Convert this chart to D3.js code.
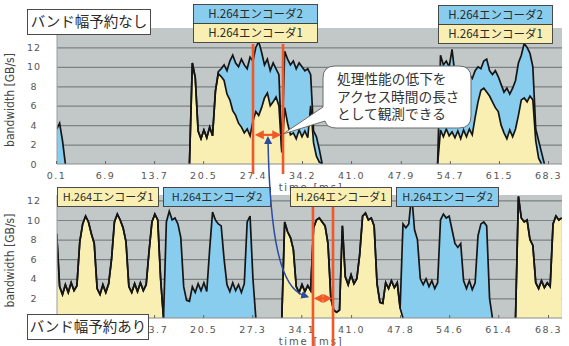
<!DOCTYPE html>
<html>
<head>
<meta charset="utf-8">
<script src="https://cdn.jsdelivr.net/npm/d3@7"></script>
<style>
  body { margin: 0; background: #fff; }
  svg { display: block; }
</style>
</head>
<body>
<div id="chart"></div>
<script>
// samples every 0.4 ms starting at 0.2 ms
const T0 = 0.2, DT = 0.4;

const xLabelsTop = ["0.1", "6.9", "13.7", "20.5", "27.4", "34.2", "41.0", "47.9", "54.7", "61.5", "68.3"];
// first two are hidden under the "バンド幅予約あり" box in the original
const xLabelsBottom = ["13.7", "20.5", "27.3", "34.1", "41.0", "47.8", "54.6", "61.4", "68.3"];
const yTicksTop = [0, 2, 4, 6, 8, 10, 12];
const yTicksBottom = [2, 4, 6, 8, 10, 12];

// without bandwidth reservation (GB/s)
const topEnc1 = [
  0, 0, 0, 0, 0, 0, 0, 0, 0, 0,
  0, 0, 0, 0, 0, 0, 0, 0, 0, 0,
  0, 0, 0, 0, 0, 0, 0, 0, 0, 0,
  0, 0, 0, 0, 0, 0, 0, 0, 0, 0,
  0, 0, 0, 0, 0, 0, 0, 10.4, 8.9, 3.4,
  2.6, 3.5, 2.7, 3.8, 2.9, 7.5, 9.3, 9.0, 8.6, 7.2,
  6.6, 5.5, 5.0, 4.2, 3.8, 3.2, 3.6, 2.9, 4.4, 5.4,
  5.0, 5.8, 6.8, 7.3, 6.0, 6.4, 6.9, 6.0, 1.2, 5.8,
  4.2, 3.0, 3.2, 2.6, 3.5, 2.8, 3.4, 2.7, 6.0, 2.2,
  0.8, 0.2, 0, 0, 0, 0, 0, 0, 0, 0,
  0, 0, 0, 0, 0, 0, 0, 0, 0, 0,
  0, 0, 0, 0, 0, 0, 0, 0, 0, 0,
  0, 0, 0, 0, 0, 0, 0, 0, 0, 0,
  0, 0, 0, 3.5, 2.8, 3.6, 2.9, 3.3, 2.7, 3.4,
  2.6, 3.5, 2.8, 3.6, 3.0, 4.8, 6.4, 7.6, 7.8, 7.4,
  7.0, 6.4, 5.8, 5.4, 4.0, 3.2, 2.6, 3.5, 2.8, 3.6,
  5.0, 6.6, 6.8, 6.4, 7.0, 6.6, 2.4, 0.6, 0, 0,
  0, 0, 0, 0, 0, 0
];
const topEnc2 = [
  3.6, 4.2, 2.4, 0, 0, 0, 0, 0, 0, 0,
  0, 0, 0, 0, 0, 0, 0, 0, 0, 0,
  0, 0, 0, 0, 0, 0, 0, 0, 0, 0,
  0, 0, 0, 0, 0, 0, 0, 0, 0, 0,
  0, 0, 0, 0, 0, 0, 0, 0, 0, 0,
  0, 0, 0, 0, 0, 0, 0.2, 0.8, 1.6, 2.4,
  4.0, 5.7, 5.4, 5.8, 7.0, 7.0, 6.2, 8.1, 6.2, 6.6,
  7.6, 5.7, 3.4, 3.5, 3.6, 4.0, 2.9, 3.2, 0.3, 5.8,
  6.6, 7.2, 7.4, 7.2, 6.9, 7.2, 6.2, 7.1, 3.2, 1.2,
  2.0, 1.3, 0, 0, 0, 0, 0, 0, 0, 0,
  0, 0, 0, 0, 0, 0, 0, 0, 0, 0,
  0, 0, 0, 0, 0, 0, 0, 0, 0, 0,
  0, 0, 0, 0, 0, 0, 0, 0, 0, 0,
  0, 0, 0, 7.7, 7.4, 7.0, 7.1, 8.5, 6.5, 5.0,
  6.2, 5.9, 5.8, 5.6, 5.8, 4.8, 3.6, 2.2, 2.8, 3.4,
  2.6, 2.8, 3.8, 3.6, 4.2, 4.2, 5.2, 3.7, 5.0, 5.0,
  5.4, 4.6, 5.6, 5.6, 4.4, 3.4, 1.2, 1.8, 1.2, 0,
  0, 0, 0, 0, 0, 0
];

// with bandwidth reservation (GB/s)
const bottomEnc1 = [
  8.6, 3.2, 2.4, 3.4, 2.6, 3.6, 2.8, 3.3, 7.8, 9.6,
  10.4, 9.8, 8.6, 7.6, 3.0, 2.4, 3.4, 2.6, 3.5, 6.0,
  9.8, 10.6, 10.0, 9.2, 7.8, 3.2, 2.6, 3.5, 2.7, 3.6,
  2.8, 3.4, 6.8, 9.8, 10.6, 10.0, 4.0, 0, 0, 0,
  0, 0, 0, 0, 0, 0, 0, 0, 0, 0,
  0, 0, 0, 0, 0, 0, 0, 0, 0, 0,
  0, 0, 0, 0, 0, 0, 0, 0, 0, 0,
  0, 0, 0, 0, 0, 0, 0, 0, 0, 9.8,
  8.8, 8.2, 7.0, 3.2, 2.6, 3.4, 2.7, 3.3, 2.8, 9.2,
  10.0, 10.2, 9.8, 9.4, 7.6, 2.0, 0.8, 0.6, 0.8, 9.4,
  4.2, 3.4, 4.4, 3.5, 4.0, 6.5, 10.4, 10.7, 10.0, 10.2,
  9.4, 3.5, 1.6, 1.5, 3.6, 3.0, 3.8, 3.1, 3.6, 1.0,
  0, 0, 0, 0, 0, 0, 0, 0, 0, 0,
  0, 0, 0, 0, 0, 0, 0, 0, 0, 0,
  0, 0, 0, 0, 0, 0, 0, 0, 0, 0,
  0, 0, 0, 0, 0, 0, 0, 0, 0, 0,
  12.4, 10.2, 9.8, 10.0, 8.0, 7.4, 3.6, 3.0, 3.8, 3.1,
  3.6, 3.2, 9.6, 10.4, 10.0, 10.2
];
const bottomEnc2 = [
  0, 0, 0, 0, 0, 0, 0, 0, 0, 0,
  0, 0, 0, 0, 0, 0, 0, 0, 0, 0,
  0, 0, 0, 0, 0, 0, 0, 0, 0, 0,
  0, 0, 0, 0, 0, 0, 0, 0, 9.8, 10.9,
  10.0, 10.2, 9.6, 8.2, 3.2, 1.8, 1.7, 3.2, 2.6, 3.5,
  2.8, 3.6, 2.7, 7.0, 10.8, 10.0, 9.6, 9.4, 6.0, 3.4,
  2.7, 3.6, 2.8, 3.4, 2.6, 3.5, 9.8, 10.4, 4.0, 0,
  0, 0, 0, 0, 0, 0, 0, 0, 0, 0,
  0, 0, 0, 0, 0, 0, 0, 0, 0, 0,
  0, 0, 0, 0, 0, 0, 0, 0, 0, 0,
  0, 0, 0, 0, 0, 0, 0, 0, 0, 0,
  0, 0, 0, 0, 0, 0, 0, 0, 0, 0,
  9.6, 9.2, 9.6, 12.6, 9.0, 8.0, 4.0, 3.4, 4.0, 3.2,
  3.8, 3.0, 3.6, 10.0, 10.6, 10.2, 10.4, 9.0, 7.6, 7.2,
  7.6, 3.8, 3.0, 3.8, 2.9, 3.6, 8.4, 9.6, 9.8, 9.4,
  2.0, 0, 0, 0, 0, 0, 0, 0, 0, 0,
  0, 0, 0, 0, 0, 0, 0, 0, 0, 0,
  0, 0, 0, 0, 0, 0
];

const W = 569, H = 346;
const plotLeft = 57, plotRight = 562;
const GRAY = "#c2c7c7", YELLOW = "#f9efb2", BLUE = "#89cdee", RED = "#f0582a", NAVY = "#2b4aa3";

const svg = d3.select("#chart").append("svg")
  .attr("width", W).attr("height", H)
  .style("font-family", "'Noto Sans CJK JP', sans-serif");

const x = d3.scaleLinear().domain([0.1, 68.3]).range([56, 548]);

function drawPanel(enc1, enc2, top, bottom, yMax, xLabels, yTicks, id) {
  const y = d3.scaleLinear().domain([0, yMax]).range([bottom, top]);
  const g = svg.append("g");

  g.append("rect")
    .attr("x", plotLeft).attr("y", top)
    .attr("width", plotRight - plotLeft).attr("height", bottom - top)
    .attr("fill", GRAY);

  // horizontal grid
  g.append("g")
    .attr("transform", `translate(${plotLeft},0)`)
    .call(d3.axisLeft(y).tickValues([2, 4, 6, 8, 10, 12])
      .tickSize(-(plotRight - plotLeft)).tickFormat(""))
    .call(a => a.select(".domain").remove())
    .call(a => a.selectAll("line").attr("stroke", "#7c8181").attr("stroke-width", 1.2));

  g.append("clipPath").attr("id", id)
    .append("rect")
    .attr("x", plotLeft).attr("y", top)
    .attr("width", plotRight - plotLeft).attr("height", bottom - top);

  const rows = enc1.map((v, i) => ({ t: T0 + i * DT, a: v, b: v + enc2[i] }));
  const near = key => (d, i) =>
    d[key] > 0 || (i > 0 && rows[i - 1][key] > 0) || (i < rows.length - 1 && rows[i + 1][key] > 0);

  const data = g.append("g").attr("clip-path", `url(#${id})`);

  data.append("path").datum(rows)
    .attr("fill", YELLOW)
    .attr("d", d3.area().x(d => x(d.t)).y0(y(0)).y1(d => y(d.a)));

  data.append("path").datum(rows)
    .attr("fill", BLUE)
    .attr("d", d3.area().x(d => x(d.t)).y0(d => y(d.a)).y1(d => y(d.b)));

  [["a", near("a")], ["b", near("b")]].forEach(([key, def]) => {
    data.append("path").datum(rows)
      .attr("fill", "none")
      .attr("stroke", "#151515")
      .attr("stroke-width", 1.7)
      .attr("d", d3.line().defined(def).x(d => x(d.t)).y(d => y(d[key])));
  });

  // axis lines
  g.append("line")
    .attr("x1", plotLeft).attr("x2", plotRight)
    .attr("y1", bottom).attr("y2", bottom)
    .attr("stroke", "#8a8e8e");
  g.append("line")
    .attr("x1", plotLeft).attr("x2", plotLeft)
    .attr("y1", top).attr("y2", bottom)
    .attr("stroke", "#9a9e9e");

  // x axis
  g.append("g")
    .attr("transform", `translate(0,${bottom})`)
    .call(d3.axisBottom(x).tickValues(xLabels.map(Number))
      .tickFormat((d, i) => xLabels[i]).tickSize(-3).tickPadding(8))
    .call(a => a.select(".domain").remove())
    .call(a => a.selectAll("line").attr("stroke", "#666"))
    .call(a => a.selectAll("text")
      .attr("fill", "#555").style("font-family", "'DejaVu Sans', sans-serif")
      .style("font-size", "9.5px").style("letter-spacing", "1.5px"));

  // y axis labels
  g.append("g")
    .attr("transform", `translate(${plotLeft},0)`)
    .call(d3.axisLeft(y).tickValues(yTicks).tickSize(0))
    .call(a => a.select(".domain").remove())
    .call(a => a.selectAll("text")
      .attr("x", -23).attr("text-anchor", "middle")
      .attr("fill", "#555").style("font-family", "'DejaVu Sans', sans-serif")
      .style("font-size", "9.5px").style("letter-spacing", "1px"));

  g.append("text")
    .attr("transform", `translate(14,${(top + bottom) / 2 + 4}) rotate(-90)`)
    .attr("text-anchor", "middle")
    .attr("fill", "#444")
    .style("font-family", "'Liberation Sans Narrow', 'DejaVu Sans Condensed', sans-serif")
    .style("font-size", "12px")
    .text("bandwidth [GB/s]");

  g.append("text")
    .attr("x", 311).attr("y", bottom + 27)
    .attr("text-anchor", "middle")
    .attr("fill", "#555")
    .style("font-family", "'DejaVu Sans', sans-serif")
    .style("font-size", "10px").style("letter-spacing", "1.8px")
    .text("time [ms]");

  return y;
}

const yTop = drawPanel(topEnc1, topEnc2, 28, 164, 14, xLabelsTop, yTicksTop, "clipTop");
const yBottom = drawPanel(bottomEnc1, bottomEnc2, 195, 318, 12.55, xLabelsBottom, yTicksBottom, "clipBottom");

function labelBox(bx, by, w, h, fill, text, size) {
  svg.append("rect")
    .attr("x", bx + 0.5).attr("y", by + 0.5).attr("width", w).attr("height", h)
    .attr("fill", fill).attr("stroke", "#3a3a3a").attr("stroke-width", 0.9);
  svg.append("text")
    .attr("x", bx + w / 2 + 0.5).attr("y", by + h / 2 + size * 0.36 + 0.5)
    .attr("text-anchor", "middle")
    .attr("fill", "#2a2a2a")
    .style("font-size", size + "px")
    .text(text);
}

const enc1Name = "H.264エンコーダ1", enc2Name = "H.264エンコーダ2";
labelBox(193, 4, 124, 19, BLUE, enc2Name, 11.5);
labelBox(193, 23, 124, 19, YELLOW, enc1Name, 11.5);
labelBox(438, 5, 114, 19, BLUE, enc2Name, 11.5);
labelBox(438, 24, 114, 19, YELLOW, enc1Name, 11.5);

labelBox(57, 187, 101, 19, YELLOW, enc1Name, 11);
labelBox(163, 187, 107, 19, BLUE, enc2Name, 11);
labelBox(290, 187, 101, 19, YELLOW, enc1Name, 11);
labelBox(396, 187, 102, 19, BLUE, enc2Name, 11);

labelBox(27, 9, 123, 25, "#fff", "バンド幅予約なし", 14.5);
labelBox(27, 314, 121, 25, "#fff", "バンド幅予約あり", 14.5);

// markers
const defs = svg.append("defs");
defs.append("marker").attr("id", "redHead")
  .attr("viewBox", "0 0 10 10").attr("refX", 2).attr("refY", 5)
  .attr("markerWidth", 9).attr("markerHeight", 9).attr("markerUnits", "userSpaceOnUse")
  .attr("orient", "auto-start-reverse")
  .append("path").attr("d", "M0,0 L10,5 L0,10 Z").attr("fill", RED);
defs.append("marker").attr("id", "blueHead")
  .attr("viewBox", "0 0 10 10").attr("refX", 3).attr("refY", 5)
  .attr("markerWidth", 8).attr("markerHeight", 8).attr("markerUnits", "userSpaceOnUse")
  .attr("orient", "auto-start-reverse")
  .append("path").attr("d", "M0,0 L10,5 L0,10 Z").attr("fill", NAVY);

// gap between the two encoders' accesses
const gapTop = [27.41, 31.57], gapBottom = [35.72, 38.5];

gapTop.forEach(t => {
  svg.append("line")
    .attr("x1", x(t)).attr("x2", x(t)).attr("y1", 44).attr("y2", 174)
    .attr("stroke", RED).attr("stroke-width", 2.6);
});
gapBottom.forEach(t => {
  svg.append("line")
    .attr("x1", x(t)).attr("x2", x(t)).attr("y1", 207).attr("y2", 346)
    .attr("stroke", RED).attr("stroke-width", 2.6);
});

svg.append("line")
  .attr("x1", x(gapTop[0]) + 9).attr("x2", x(gapTop[1]) - 9)
  .attr("y1", yTop(3)).attr("y2", yTop(3))
  .attr("stroke", RED).attr("stroke-width", 2.2)
  .attr("marker-start", "url(#redHead)").attr("marker-end", "url(#redHead)");
svg.append("line")
  .attr("x1", x(gapBottom[0]) + 8).attr("x2", x(gapBottom[1]) - 8)
  .attr("y1", yBottom(2)).attr("y2", yBottom(2))
  .attr("stroke", RED).attr("stroke-width", 2.2)
  .attr("marker-start", "url(#redHead)").attr("marker-end", "url(#redHead)");

// callout bubble
svg.append("path")
  .attr("d", "M335,66 H459 Q471,66 471,78 V116 Q471,128 459,128 H336 Q327,128 325,121 L283,134 L323,107 V78 Q323,66 335,66 Z")
  .attr("fill", "#fff").attr("stroke", "#6a6a6a").attr("stroke-width", 1);
const calloutLines = ["処理性能の低下を", "アクセス時間の長さ", "として観測できる"];
svg.append("g").selectAll("text").data(calloutLines).join("text")
  .attr("x", 337).attr("y", (d, i) => 84 + i * 17.5)
  .attr("fill", "#333")
  .style("font-size", "13.7px")
  .text(d => d);

// blue arrow linking both gaps
const sx = x(29.49), sy = yTop(2.3), ex = x(34.45), ey = yBottom(2.3);
svg.append("path")
  .attr("d", `M${sx},${sy} C${sx + 2},${sy + 95} ${sx + 12},${ey - 8} ${ex},${ey}`)
  .attr("fill", "none").attr("stroke", NAVY).attr("stroke-width", 1.5)
  .attr("marker-start", "url(#blueHead)").attr("marker-end", "url(#blueHead)");
</script>
</body>
</html>
